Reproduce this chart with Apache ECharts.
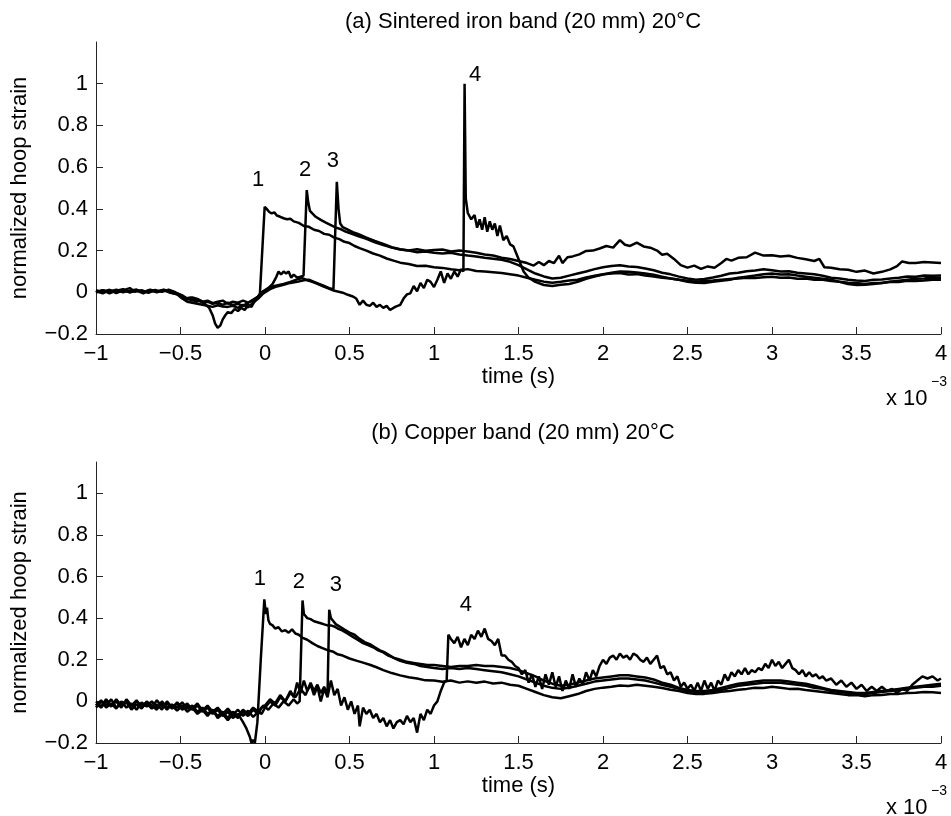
<!DOCTYPE html>
<html>
<head>
<meta charset="utf-8">
<script src="https://cdn.jsdelivr.net/npm/echarts@6/dist/echarts.min.js"></script>
<style>html,body{margin:0;padding:0;background:#fff}#c{width:951px;height:816px}</style>
</head>
<body>
<div id="c"></div>
<script>
// ---- Data (time in ms x10^-3 s, normalized hoop strain) ----
const xTicks = [-1, -0.5, 0, 0.5, 1, 1.5, 2, 2.5, 3, 3.5, 4];
const yTicks = [-0.2, 0, 0.2, 0.4, 0.6, 0.8, 1];
const titleA = '(a) Sintered iron band (20 mm) 20°C';
const titleB = '(b) Copper band (20 mm) 20°C';

// Panel (a) sensors 1-4
const a1 = [[-1,0.01],[-0.96,0.0],[-0.92,0.012],[-0.88,-0.004],[-0.84,0.009],[-0.8,0.02],[-0.77,0.002],[-0.73,0.01],[-0.69,-0.003],[-0.65,0.011],[-0.61,0.002],[-0.57,0.012],[-0.53,0.0],[-0.5,-0.012],[-0.47,-0.03],[-0.44,-0.025],[-0.41,-0.045],[-0.38,-0.04],[-0.35,-0.06],[-0.33,-0.075],[-0.31,-0.11],[-0.295,-0.15],[-0.28,-0.17],[-0.265,-0.16],[-0.25,-0.13],[-0.235,-0.11],[-0.22,-0.095],[-0.2,-0.1],[-0.18,-0.08],[-0.16,-0.09],[-0.14,-0.075],[-0.12,-0.085],[-0.1,-0.06],[-0.08,-0.07],[-0.06,-0.04],[-0.04,-0.02],[-0.03,-0.005],[-0.002,0.41],[0.01,0.4],[0.025,0.385],[0.04,0.378],[0.055,0.383],[0.07,0.368],[0.09,0.362],[0.11,0.355],[0.13,0.35],[0.15,0.353],[0.17,0.34],[0.2,0.333],[0.23,0.318],[0.26,0.314],[0.29,0.3],[0.32,0.294],[0.35,0.28],[0.38,0.276],[0.41,0.262],[0.44,0.255],[0.47,0.242],[0.5,0.236],[0.53,0.222],[0.56,0.212],[0.6,0.2],[0.64,0.186],[0.68,0.176],[0.72,0.162],[0.76,0.152],[0.8,0.142],[0.85,0.136],[0.9,0.126],[0.95,0.127],[1.0,0.12],[1.05,0.117],[1.1,0.11],[1.15,0.106],[1.2,0.111],[1.25,0.102],[1.3,0.1],[1.35,0.096],[1.4,0.092],[1.45,0.086],[1.5,0.08],[1.55,0.07],[1.6,0.06],[1.65,0.051],[1.7,0.046],[1.75,0.05],[1.8,0.056],[1.85,0.06],[1.9,0.071],[1.95,0.079],[2.0,0.086],[2.05,0.09],[2.1,0.092],[2.15,0.085],[2.2,0.087],[2.25,0.08],[2.3,0.076],[2.35,0.07],[2.4,0.066],[2.45,0.06],[2.5,0.055],[2.55,0.05],[2.6,0.054],[2.65,0.056],[2.7,0.06],[2.75,0.064],[2.8,0.066],[2.85,0.07],[2.9,0.069],[2.95,0.072],[3.0,0.075],[3.05,0.07],[3.1,0.071],[3.15,0.065],[3.2,0.066],[3.25,0.06],[3.3,0.06],[3.35,0.054],[3.4,0.05],[3.45,0.046],[3.5,0.044],[3.55,0.04],[3.6,0.045],[3.65,0.044],[3.7,0.05],[3.75,0.049],[3.8,0.055],[3.85,0.054],[3.9,0.056],[3.95,0.06],[4.0,0.06]];
const a2 = [[-1,0.0],[-0.96,0.01],[-0.92,0.004],[-0.88,0.012],[-0.84,0.0],[-0.8,0.008],[-0.76,0.013],[-0.72,0.0],[-0.68,0.01],[-0.64,0.002],[-0.6,0.011],[-0.56,0.0],[-0.52,-0.01],[-0.49,-0.02],[-0.46,-0.035],[-0.43,-0.025],[-0.4,-0.032],[-0.37,-0.045],[-0.34,-0.04],[-0.31,-0.052],[-0.28,-0.045],[-0.25,-0.04],[-0.22,-0.055],[-0.19,-0.045],[-0.16,-0.05],[-0.13,-0.04],[-0.1,-0.05],[-0.07,-0.035],[-0.04,-0.02],[-0.01,0.005],[0.02,0.02],[0.045,0.04],[0.065,0.07],[0.08,0.1],[0.095,0.085],[0.11,0.1],[0.125,0.09],[0.14,0.1],[0.155,0.07],[0.17,0.085],[0.19,0.07],[0.21,0.075],[0.228,0.08],[0.247,0.49],[0.256,0.43],[0.266,0.39],[0.28,0.378],[0.3,0.362],[0.33,0.347],[0.36,0.334],[0.39,0.322],[0.42,0.31],[0.45,0.302],[0.48,0.29],[0.51,0.282],[0.55,0.27],[0.6,0.256],[0.65,0.24],[0.7,0.226],[0.75,0.214],[0.8,0.205],[0.85,0.2],[0.9,0.206],[0.95,0.199],[1.0,0.203],[1.05,0.205],[1.1,0.196],[1.15,0.2],[1.2,0.195],[1.25,0.19],[1.3,0.181],[1.35,0.176],[1.4,0.166],[1.45,0.16],[1.5,0.15],[1.55,0.14],[1.59,0.128],[1.62,0.145],[1.65,0.13],[1.68,0.15],[1.71,0.14],[1.74,0.175],[1.76,0.14],[1.79,0.168],[1.82,0.172],[1.86,0.182],[1.9,0.198],[1.94,0.2],[1.98,0.21],[2.02,0.222],[2.06,0.214],[2.1,0.25],[2.13,0.228],[2.16,0.222],[2.2,0.238],[2.24,0.22],[2.28,0.214],[2.32,0.2],[2.35,0.18],[2.38,0.185],[2.42,0.16],[2.46,0.13],[2.5,0.118],[2.54,0.128],[2.58,0.112],[2.62,0.124],[2.66,0.118],[2.7,0.14],[2.73,0.16],[2.76,0.152],[2.8,0.165],[2.85,0.168],[2.9,0.19],[2.95,0.176],[3.0,0.178],[3.05,0.172],[3.1,0.175],[3.15,0.165],[3.2,0.158],[3.25,0.15],[3.28,0.16],[3.31,0.12],[3.35,0.118],[3.4,0.11],[3.45,0.108],[3.5,0.098],[3.55,0.104],[3.6,0.09],[3.65,0.098],[3.7,0.11],[3.74,0.125],[3.77,0.148],[3.81,0.14],[3.85,0.14],[3.9,0.145],[3.95,0.143],[4.0,0.14]];
const a3 = [[-1,0.005],[-0.96,-0.005],[-0.92,0.01],[-0.88,0.0],[-0.84,0.012],[-0.8,0.0],[-0.76,0.008],[-0.72,-0.005],[-0.68,0.01],[-0.64,0.0],[-0.6,0.01],[-0.56,-0.002],[-0.52,-0.01],[-0.49,-0.03],[-0.46,-0.045],[-0.43,-0.05],[-0.4,-0.055],[-0.37,-0.06],[-0.34,-0.065],[-0.31,-0.07],[-0.28,-0.062],[-0.25,-0.068],[-0.22,-0.07],[-0.19,-0.065],[-0.16,-0.075],[-0.13,-0.06],[-0.1,-0.072],[-0.07,-0.05],[-0.04,-0.03],[-0.01,-0.005],[0.03,0.015],[0.07,0.028],[0.11,0.036],[0.15,0.045],[0.19,0.05],[0.23,0.058],[0.26,0.06],[0.29,0.05],[0.32,0.04],[0.35,0.03],[0.38,0.02],[0.405,0.015],[0.425,0.53],[0.435,0.4],[0.445,0.33],[0.46,0.312],[0.49,0.3],[0.52,0.288],[0.55,0.28],[0.6,0.262],[0.65,0.246],[0.7,0.232],[0.75,0.216],[0.8,0.206],[0.85,0.2],[0.9,0.192],[0.95,0.196],[1.0,0.19],[1.05,0.186],[1.1,0.19],[1.15,0.181],[1.2,0.176],[1.25,0.172],[1.3,0.166],[1.35,0.161],[1.4,0.156],[1.45,0.146],[1.5,0.13],[1.55,0.11],[1.6,0.09],[1.65,0.076],[1.7,0.066],[1.75,0.07],[1.8,0.08],[1.85,0.09],[1.9,0.1],[1.95,0.111],[2.0,0.12],[2.05,0.126],[2.1,0.13],[2.15,0.124],[2.2,0.121],[2.25,0.114],[2.3,0.106],[2.35,0.094],[2.4,0.086],[2.45,0.075],[2.5,0.066],[2.55,0.06],[2.6,0.064],[2.65,0.071],[2.7,0.079],[2.75,0.09],[2.8,0.094],[2.85,0.101],[2.9,0.104],[2.95,0.11],[3.0,0.106],[3.05,0.1],[3.1,0.101],[3.15,0.094],[3.2,0.09],[3.25,0.086],[3.3,0.079],[3.35,0.07],[3.4,0.066],[3.45,0.06],[3.5,0.056],[3.55,0.054],[3.6,0.06],[3.65,0.061],[3.7,0.066],[3.75,0.07],[3.8,0.076],[3.85,0.075],[3.9,0.08],[3.95,0.079],[4.0,0.08]];
const a4 = [[-1,0.0],[-0.96,0.01],[-0.92,-0.005],[-0.88,0.008],[-0.84,0.015],[-0.8,0.0],[-0.76,0.01],[-0.72,0.0],[-0.68,0.012],[-0.64,0.004],[-0.6,0.012],[-0.56,0.005],[-0.52,-0.005],[-0.49,-0.015],[-0.46,-0.03],[-0.43,-0.04],[-0.4,-0.035],[-0.37,-0.05],[-0.34,-0.045],[-0.31,-0.055],[-0.28,-0.05],[-0.25,-0.06],[-0.22,-0.05],[-0.19,-0.062],[-0.16,-0.055],[-0.13,-0.065],[-0.1,-0.05],[-0.07,-0.04],[-0.04,-0.02],[-0.01,0.005],[0.03,0.025],[0.07,0.033],[0.11,0.04],[0.15,0.05],[0.19,0.062],[0.22,0.068],[0.25,0.058],[0.28,0.05],[0.31,0.04],[0.34,0.03],[0.37,0.02],[0.4,0.01],[0.43,0.004],[0.46,-0.002],[0.49,-0.012],[0.52,-0.02],[0.54,-0.03],[0.56,-0.06],[0.58,-0.04],[0.6,-0.06],[0.62,-0.065],[0.64,-0.05],[0.66,-0.07],[0.68,-0.06],[0.7,-0.075],[0.72,-0.065],[0.74,-0.085],[0.77,-0.07],[0.8,-0.06],[0.82,-0.03],[0.84,-0.01],[0.86,-0.005],[0.88,0.03],[0.9,0.005],[0.92,0.045],[0.94,0.02],[0.96,0.06],[0.98,0.05],[1.0,0.025],[1.02,0.06],[1.04,0.1],[1.06,0.045],[1.08,0.09],[1.1,0.065],[1.12,0.1],[1.14,0.075],[1.16,0.11],[1.174,0.1],[1.181,1.0],[1.188,0.45],[1.2,0.38],[1.22,0.35],[1.24,0.37],[1.255,0.31],[1.27,0.35],[1.285,0.3],[1.3,0.36],[1.315,0.29],[1.33,0.34],[1.345,0.3],[1.36,0.33],[1.375,0.27],[1.39,0.32],[1.41,0.25],[1.43,0.27],[1.45,0.23],[1.47,0.22],[1.49,0.18],[1.51,0.14],[1.53,0.1],[1.56,0.07],[1.6,0.05],[1.65,0.035],[1.7,0.03],[1.75,0.036],[1.8,0.04],[1.85,0.05],[1.9,0.065],[1.95,0.075],[2.0,0.085],[2.05,0.094],[2.1,0.1],[2.15,0.099],[2.2,0.095],[2.25,0.09],[2.3,0.084],[2.35,0.075],[2.4,0.066],[2.45,0.06],[2.5,0.05],[2.55,0.046],[2.6,0.045],[2.65,0.05],[2.7,0.055],[2.75,0.06],[2.8,0.07],[2.85,0.075],[2.9,0.08],[2.95,0.086],[3.0,0.09],[3.05,0.085],[3.1,0.086],[3.15,0.08],[3.2,0.075],[3.25,0.07],[3.3,0.065],[3.35,0.06],[3.4,0.05],[3.45,0.04],[3.5,0.035],[3.55,0.036],[3.6,0.04],[3.65,0.045],[3.7,0.05],[3.75,0.055],[3.8,0.06],[3.85,0.065],[3.9,0.066],[3.95,0.07],[4.0,0.07]];

// Panel (b) sensors 1-4
const b1 = [[-1,-0.01],[-0.97,-0.03],[-0.94,0.0],[-0.91,-0.025],[-0.88,0.01],[-0.85,-0.02],[-0.82,-0.005],[-0.79,-0.035],[-0.76,0.0],[-0.73,-0.02],[-0.7,-0.005],[-0.67,-0.03],[-0.64,0.005],[-0.61,-0.025],[-0.58,-0.01],[-0.55,-0.035],[-0.52,-0.005],[-0.49,-0.03],[-0.46,-0.01],[-0.43,-0.04],[-0.4,-0.02],[-0.37,-0.05],[-0.34,-0.03],[-0.31,-0.06],[-0.28,-0.04],[-0.25,-0.07],[-0.22,-0.05],[-0.19,-0.08],[-0.16,-0.06],[-0.13,-0.1],[-0.11,-0.13],[-0.09,-0.17],[-0.08,-0.2],[-0.07,-0.185],[-0.06,-0.2],[-0.045,-0.1],[-0.025,0.2],[-0.004,0.49],[0.005,0.42],[0.012,0.45],[0.02,0.39],[0.03,0.372],[0.045,0.365],[0.06,0.35],[0.08,0.356],[0.1,0.336],[0.12,0.342],[0.14,0.33],[0.16,0.346],[0.18,0.326],[0.2,0.32],[0.22,0.306],[0.25,0.296],[0.28,0.28],[0.31,0.266],[0.34,0.256],[0.37,0.246],[0.4,0.24],[0.43,0.226],[0.46,0.22],[0.5,0.206],[0.54,0.196],[0.58,0.186],[0.62,0.176],[0.66,0.164],[0.7,0.15],[0.75,0.136],[0.8,0.125],[0.85,0.116],[0.9,0.11],[0.95,0.101],[1.0,0.1],[1.05,0.094],[1.1,0.1],[1.15,0.09],[1.2,0.096],[1.25,0.089],[1.3,0.095],[1.35,0.086],[1.4,0.09],[1.45,0.08],[1.5,0.075],[1.55,0.06],[1.6,0.045],[1.65,0.03],[1.7,0.02],[1.75,0.015],[1.8,0.025],[1.85,0.035],[1.9,0.05],[1.95,0.06],[2.0,0.066],[2.05,0.07],[2.1,0.076],[2.15,0.074],[2.2,0.08],[2.25,0.075],[2.3,0.07],[2.35,0.064],[2.4,0.056],[2.45,0.05],[2.5,0.04],[2.55,0.035],[2.6,0.036],[2.65,0.04],[2.7,0.046],[2.75,0.05],[2.8,0.056],[2.85,0.06],[2.9,0.065],[2.95,0.064],[3.0,0.07],[3.05,0.065],[3.1,0.06],[3.15,0.061],[3.2,0.055],[3.25,0.05],[3.3,0.045],[3.35,0.04],[3.4,0.035],[3.45,0.03],[3.5,0.03],[3.55,0.025],[3.6,0.03],[3.65,0.031],[3.7,0.035],[3.75,0.036],[3.8,0.04],[3.85,0.041],[3.9,0.045],[3.95,0.044],[4.0,0.04]];
const b2 = [[-1,-0.02],[-0.97,0.005],[-0.94,-0.03],[-0.91,-0.01],[-0.88,-0.035],[-0.85,0.0],[-0.82,-0.03],[-0.79,-0.01],[-0.76,-0.04],[-0.73,-0.005],[-0.7,-0.025],[-0.67,0.0],[-0.64,-0.03],[-0.61,-0.01],[-0.58,-0.04],[-0.55,-0.015],[-0.52,-0.03],[-0.49,-0.005],[-0.46,-0.035],[-0.43,-0.02],[-0.4,-0.05],[-0.37,-0.03],[-0.34,-0.06],[-0.31,-0.04],[-0.28,-0.07],[-0.25,-0.05],[-0.22,-0.08],[-0.19,-0.05],[-0.16,-0.07],[-0.13,-0.04],[-0.1,-0.06],[-0.07,-0.03],[-0.04,-0.05],[-0.01,-0.02],[0.02,-0.04],[0.05,-0.01],[0.08,-0.03],[0.11,0.0],[0.14,-0.02],[0.17,0.01],[0.19,-0.01],[0.205,0.0],[0.222,0.485],[0.23,0.42],[0.24,0.41],[0.25,0.4],[0.27,0.395],[0.29,0.385],[0.31,0.38],[0.33,0.375],[0.35,0.37],[0.37,0.365],[0.39,0.365],[0.41,0.36],[0.43,0.35],[0.46,0.34],[0.49,0.325],[0.52,0.31],[0.55,0.295],[0.58,0.28],[0.61,0.27],[0.64,0.26],[0.67,0.245],[0.7,0.235],[0.73,0.22],[0.76,0.21],[0.8,0.2],[0.84,0.19],[0.88,0.185],[0.92,0.18],[0.96,0.175],[1.0,0.175],[1.05,0.17],[1.1,0.165],[1.15,0.17],[1.2,0.17],[1.25,0.175],[1.3,0.17],[1.35,0.17],[1.4,0.165],[1.45,0.16],[1.5,0.15],[1.55,0.135],[1.6,0.12],[1.65,0.1],[1.7,0.085],[1.75,0.075],[1.8,0.08],[1.85,0.09],[1.9,0.1],[1.95,0.11],[2.0,0.115],[2.05,0.12],[2.1,0.125],[2.15,0.125],[2.2,0.12],[2.25,0.115],[2.3,0.105],[2.35,0.09],[2.4,0.08],[2.45,0.065],[2.5,0.055],[2.55,0.05],[2.6,0.05],[2.65,0.055],[2.7,0.065],[2.75,0.075],[2.8,0.085],[2.85,0.09],[2.9,0.095],[2.95,0.1],[3.0,0.1],[3.05,0.1],[3.1,0.095],[3.15,0.09],[3.2,0.085],[3.25,0.075],[3.3,0.065],[3.35,0.055],[3.4,0.05],[3.45,0.045],[3.5,0.04],[3.55,0.04],[3.6,0.045],[3.65,0.05],[3.7,0.055],[3.75,0.06],[3.8,0.065],[3.85,0.07],[3.9,0.075],[3.95,0.08],[4.0,0.085]];
const b3 = [[-1,-0.03],[-0.97,0.0],[-0.94,-0.02],[-0.91,0.01],[-0.88,-0.03],[-0.85,-0.01],[-0.82,0.0],[-0.79,-0.04],[-0.76,-0.015],[-0.73,-0.035],[-0.7,0.0],[-0.67,-0.02],[-0.64,-0.04],[-0.61,0.0],[-0.58,-0.03],[-0.55,-0.02],[-0.52,-0.045],[-0.49,-0.02],[-0.46,-0.05],[-0.43,-0.03],[-0.4,-0.06],[-0.37,-0.04],[-0.34,-0.07],[-0.31,-0.04],[-0.28,-0.08],[-0.25,-0.06],[-0.22,-0.09],[-0.19,-0.06],[-0.16,-0.08],[-0.13,-0.05],[-0.1,-0.07],[-0.07,-0.04],[-0.04,-0.06],[-0.02,-0.03],[0.0,-0.02],[0.03,0.01],[0.06,-0.01],[0.09,0.03],[0.12,0.0],[0.15,0.04],[0.18,0.02],[0.21,0.06],[0.24,0.03],[0.27,0.09],[0.29,0.05],[0.31,0.08],[0.33,0.04],[0.35,0.07],[0.37,0.03],[0.38,0.44],[0.39,0.4],[0.4,0.39],[0.42,0.37],[0.44,0.36],[0.47,0.345],[0.5,0.33],[0.53,0.32],[0.56,0.3],[0.59,0.285],[0.62,0.275],[0.65,0.26],[0.68,0.245],[0.71,0.235],[0.74,0.22],[0.77,0.205],[0.8,0.195],[0.84,0.185],[0.88,0.18],[0.92,0.17],[0.96,0.165],[1.0,0.16],[1.05,0.155],[1.1,0.16],[1.15,0.155],[1.2,0.16],[1.25,0.155],[1.3,0.15],[1.35,0.145],[1.4,0.14],[1.45,0.13],[1.5,0.12],[1.55,0.105],[1.6,0.09],[1.65,0.075],[1.7,0.065],[1.75,0.06],[1.8,0.065],[1.85,0.075],[1.9,0.085],[1.95,0.095],[2.0,0.1],[2.05,0.105],[2.1,0.11],[2.15,0.11],[2.2,0.105],[2.25,0.1],[2.3,0.09],[2.35,0.08],[2.4,0.07],[2.45,0.06],[2.5,0.05],[2.55,0.045],[2.6,0.045],[2.65,0.05],[2.7,0.055],[2.75,0.065],[2.8,0.075],[2.85,0.08],[2.9,0.085],[2.95,0.09],[3.0,0.09],[3.05,0.09],[3.1,0.085],[3.15,0.08],[3.2,0.075],[3.25,0.065],[3.3,0.06],[3.35,0.05],[3.4,0.045],[3.45,0.04],[3.5,0.035],[3.55,0.035],[3.6,0.04],[3.65,0.045],[3.7,0.05],[3.75,0.055],[3.8,0.06],[3.85,0.065],[3.9,0.07],[3.95,0.07],[4.0,0.075]];
const b4 = [[-1,0.0],[-0.97,-0.025],[-0.94,0.01],[-0.91,-0.02],[-0.88,0.0],[-0.85,-0.03],[-0.82,0.01],[-0.79,-0.02],[-0.76,0.005],[-0.73,-0.03],[-0.7,-0.01],[-0.67,-0.035],[-0.64,-0.015],[-0.61,-0.04],[-0.58,0.0],[-0.55,-0.03],[-0.52,-0.01],[-0.49,-0.04],[-0.46,-0.02],[-0.43,-0.035],[-0.4,-0.01],[-0.37,-0.045],[-0.34,-0.02],[-0.31,-0.05],[-0.28,-0.03],[-0.25,-0.06],[-0.22,-0.035],[-0.19,-0.065],[-0.16,-0.04],[-0.13,-0.07],[-0.1,-0.045],[-0.07,-0.075],[-0.04,-0.05],[-0.02,-0.06],[0.0,-0.03],[0.03,0.0],[0.06,-0.02],[0.09,0.02],[0.12,0.0],[0.15,0.05],[0.17,0.02],[0.19,0.09],[0.21,0.04],[0.23,0.1],[0.25,0.05],[0.27,0.08],[0.29,0.03],[0.31,0.07],[0.33,0.0],[0.35,0.06],[0.37,0.02],[0.39,0.1],[0.41,0.03],[0.43,0.06],[0.45,-0.02],[0.47,0.02],[0.49,-0.04],[0.51,0.0],[0.53,-0.06],[0.55,-0.02],[0.56,-0.12],[0.58,-0.03],[0.6,-0.06],[0.62,-0.04],[0.64,-0.08],[0.66,-0.06],[0.68,-0.1],[0.7,-0.08],[0.72,-0.12],[0.74,-0.09],[0.76,-0.13],[0.78,-0.1],[0.8,-0.09],[0.82,-0.11],[0.84,-0.07],[0.86,-0.1],[0.88,-0.08],[0.9,-0.15],[0.92,-0.06],[0.94,-0.09],[0.96,-0.04],[0.98,-0.06],[1.0,-0.02],[1.02,0.0],[1.04,0.05],[1.06,0.09],[1.075,0.1],[1.085,0.32],[1.1,0.3],[1.12,0.28],[1.14,0.31],[1.16,0.26],[1.18,0.3],[1.2,0.27],[1.22,0.32],[1.24,0.3],[1.26,0.34],[1.28,0.31],[1.3,0.35],[1.32,0.3],[1.34,0.29],[1.36,0.27],[1.38,0.3],[1.4,0.22],[1.42,0.22],[1.44,0.2],[1.46,0.19],[1.48,0.17],[1.5,0.16],[1.52,0.13],[1.54,0.15],[1.56,0.09],[1.58,0.13],[1.6,0.07],[1.62,0.12],[1.64,0.06],[1.66,0.13],[1.68,0.08],[1.7,0.14],[1.72,0.07],[1.74,0.12],[1.76,0.05],[1.78,0.1],[1.8,0.06],[1.82,0.13],[1.84,0.07],[1.86,0.11],[1.88,0.08],[1.9,0.14],[1.92,0.1],[1.94,0.15],[1.96,0.12],[1.98,0.17],[2.0,0.2],[2.02,0.18],[2.04,0.21],[2.06,0.22],[2.08,0.2],[2.1,0.23],[2.12,0.21],[2.14,0.22],[2.16,0.2],[2.18,0.23],[2.2,0.22],[2.22,0.2],[2.24,0.19],[2.26,0.21],[2.28,0.18],[2.3,0.2],[2.32,0.22],[2.34,0.16],[2.36,0.17],[2.38,0.13],[2.4,0.14],[2.42,0.1],[2.44,0.12],[2.46,0.07],[2.48,0.09],[2.5,0.06],[2.52,0.08],[2.54,0.05],[2.56,0.09],[2.58,0.05],[2.6,0.1],[2.62,0.06],[2.64,0.09],[2.66,0.05],[2.68,0.1],[2.7,0.08],[2.72,0.13],[2.74,0.1],[2.76,0.14],[2.78,0.12],[2.8,0.15],[2.82,0.13],[2.84,0.16],[2.86,0.13],[2.88,0.15],[2.9,0.14],[2.92,0.16],[2.94,0.15],[2.96,0.18],[2.98,0.16],[3.0,0.2],[3.02,0.17],[3.04,0.19],[3.06,0.16],[3.08,0.18],[3.1,0.2],[3.12,0.16],[3.14,0.15],[3.16,0.13],[3.18,0.15],[3.2,0.12],[3.22,0.14],[3.24,0.12],[3.26,0.13],[3.28,0.11],[3.3,0.12],[3.32,0.1],[3.35,0.11],[3.38,0.08],[3.41,0.1],[3.44,0.07],[3.47,0.09],[3.5,0.06],[3.53,0.08],[3.56,0.05],[3.59,0.07],[3.62,0.05],[3.65,0.07],[3.68,0.05],[3.71,0.06],[3.74,0.04],[3.77,0.06],[3.8,0.05],[3.83,0.08],[3.86,0.1],[3.89,0.12],[3.92,0.11],[3.95,0.12],[3.98,0.1],[4.0,0.11]];

// Peak annotations [time, strain, text]
const notesA = [[-0.04,0.54,'1'],[0.237,0.587,'2'],[0.402,0.63,'3'],[1.243,1.04,'4']];
const notesB = [[-0.03,0.588,'1'],[0.201,0.576,'2'],[0.42,0.56,'3'],[1.188,0.464,'4']];

// ---- Chart ----
const FONT = '"Liberation Sans", Arial, Helvetica, sans-serif';
const FS = 22;
const minus = s => String(s).replace('-', '\u2212');
const axisColor = '#262626';

function xAxisDef(gridIndex) {
  return {
    type: 'value', gridIndex, min: -1, max: 4, interval: 0.5,
    name: 'time (s)', nameLocation: 'middle', nameGap: 32,
    nameTextStyle: {fontFamily: FONT, fontSize: FS, color: '#000'},
    axisLine: {show: true, onZero: false, lineStyle: {color: axisColor, width: 1}},
    axisTick: {show: true, inside: true, length: 7, lineStyle: {color: axisColor}, customValues: xTicks},
    axisLabel: {fontFamily: FONT, fontSize: FS, color: '#000', margin: 9, customValues: xTicks, formatter: v => minus(v)},
    splitLine: {show: false}
  };
}
function yAxisDef(gridIndex, max) {
  return {
    type: 'value', gridIndex, min: -0.2, max: max,
    name: 'normalized hoop strain', nameLocation: 'middle', nameGap: 65,
    nameTextStyle: {fontFamily: FONT, fontSize: FS, color: '#000'},
    axisLine: {show: true, onZero: false, lineStyle: {color: axisColor, width: 1}},
    axisTick: {show: true, inside: true, length: 7, lineStyle: {color: axisColor}, customValues: yTicks},
    axisLabel: {fontFamily: FONT, fontSize: FS, color: '#000', margin: 8, customValues: yTicks, formatter: v => minus(v)},
    splitLine: {show: false}
  };
}
function lineSeries(data, idx) {
  return {type: 'line', xAxisIndex: idx, yAxisIndex: idx, data, symbol: 'none', silent: true,
    lineStyle: {color: '#000', width: 2.5}, itemStyle: {color: '#000'}};
}
function noteSeries(notes, idx) {
  return {type: 'scatter', xAxisIndex: idx, yAxisIndex: idx, data: notes, symbolSize: 1, silent: true,
    itemStyle: {color: 'rgba(0,0,0,0)', opacity: 1},
    label: {show: true, position: 'inside', formatter: p => p.data[2], fontFamily: FONT, fontSize: FS, color: '#000', opacity: 1}};
}

const chart = echarts.init(document.getElementById('c'), null, {renderer: 'canvas'});
chart.setOption({
  animation: false,
  backgroundColor: '#fff',
  title: [
    {text: titleA, left: 518, top: 6, textAlign: 'center', textStyle: {fontFamily: FONT, fontSize: FS, fontWeight: 'normal', color: '#000'}},
    {text: titleB, left: 518, top: 417, textAlign: 'center', textStyle: {fontFamily: FONT, fontSize: FS, fontWeight: 'normal', color: '#000'}},
    {text: 'x 10', left: 881, top: 383, textAlign: 'left', textStyle: {fontFamily: FONT, fontSize: FS, fontWeight: 'normal', color: '#000'}},
    {text: '\u22123', left: 926, top: 370, textAlign: 'left', textStyle: {fontFamily: FONT, fontSize: 14, fontWeight: 'normal', color: '#000'}},
    {text: 'x 10', left: 881, top: 792, textAlign: 'left', textStyle: {fontFamily: FONT, fontSize: FS, fontWeight: 'normal', color: '#000'}},
    {text: '\u22123', left: 926, top: 779, textAlign: 'left', textStyle: {fontFamily: FONT, fontSize: 14, fontWeight: 'normal', color: '#000'}}
  ],
  grid: [
    {left: 96, width: 845, top: 42, height: 292},
    {left: 96, width: 845, top: 462, height: 281}
  ],
  xAxis: [xAxisDef(0), xAxisDef(1)],
  yAxis: [yAxisDef(0, 1.2), yAxisDef(1, 1.15)],
  series: [
    ...[a1, a2, a3, a4].map(d => lineSeries(d, 0)),
    ...[b1, b2, b3, b4].map(d => lineSeries(d, 1)),
    noteSeries(notesA, 0),
    noteSeries(notesB, 1)
  ]
});
</script>
</body>
</html>
